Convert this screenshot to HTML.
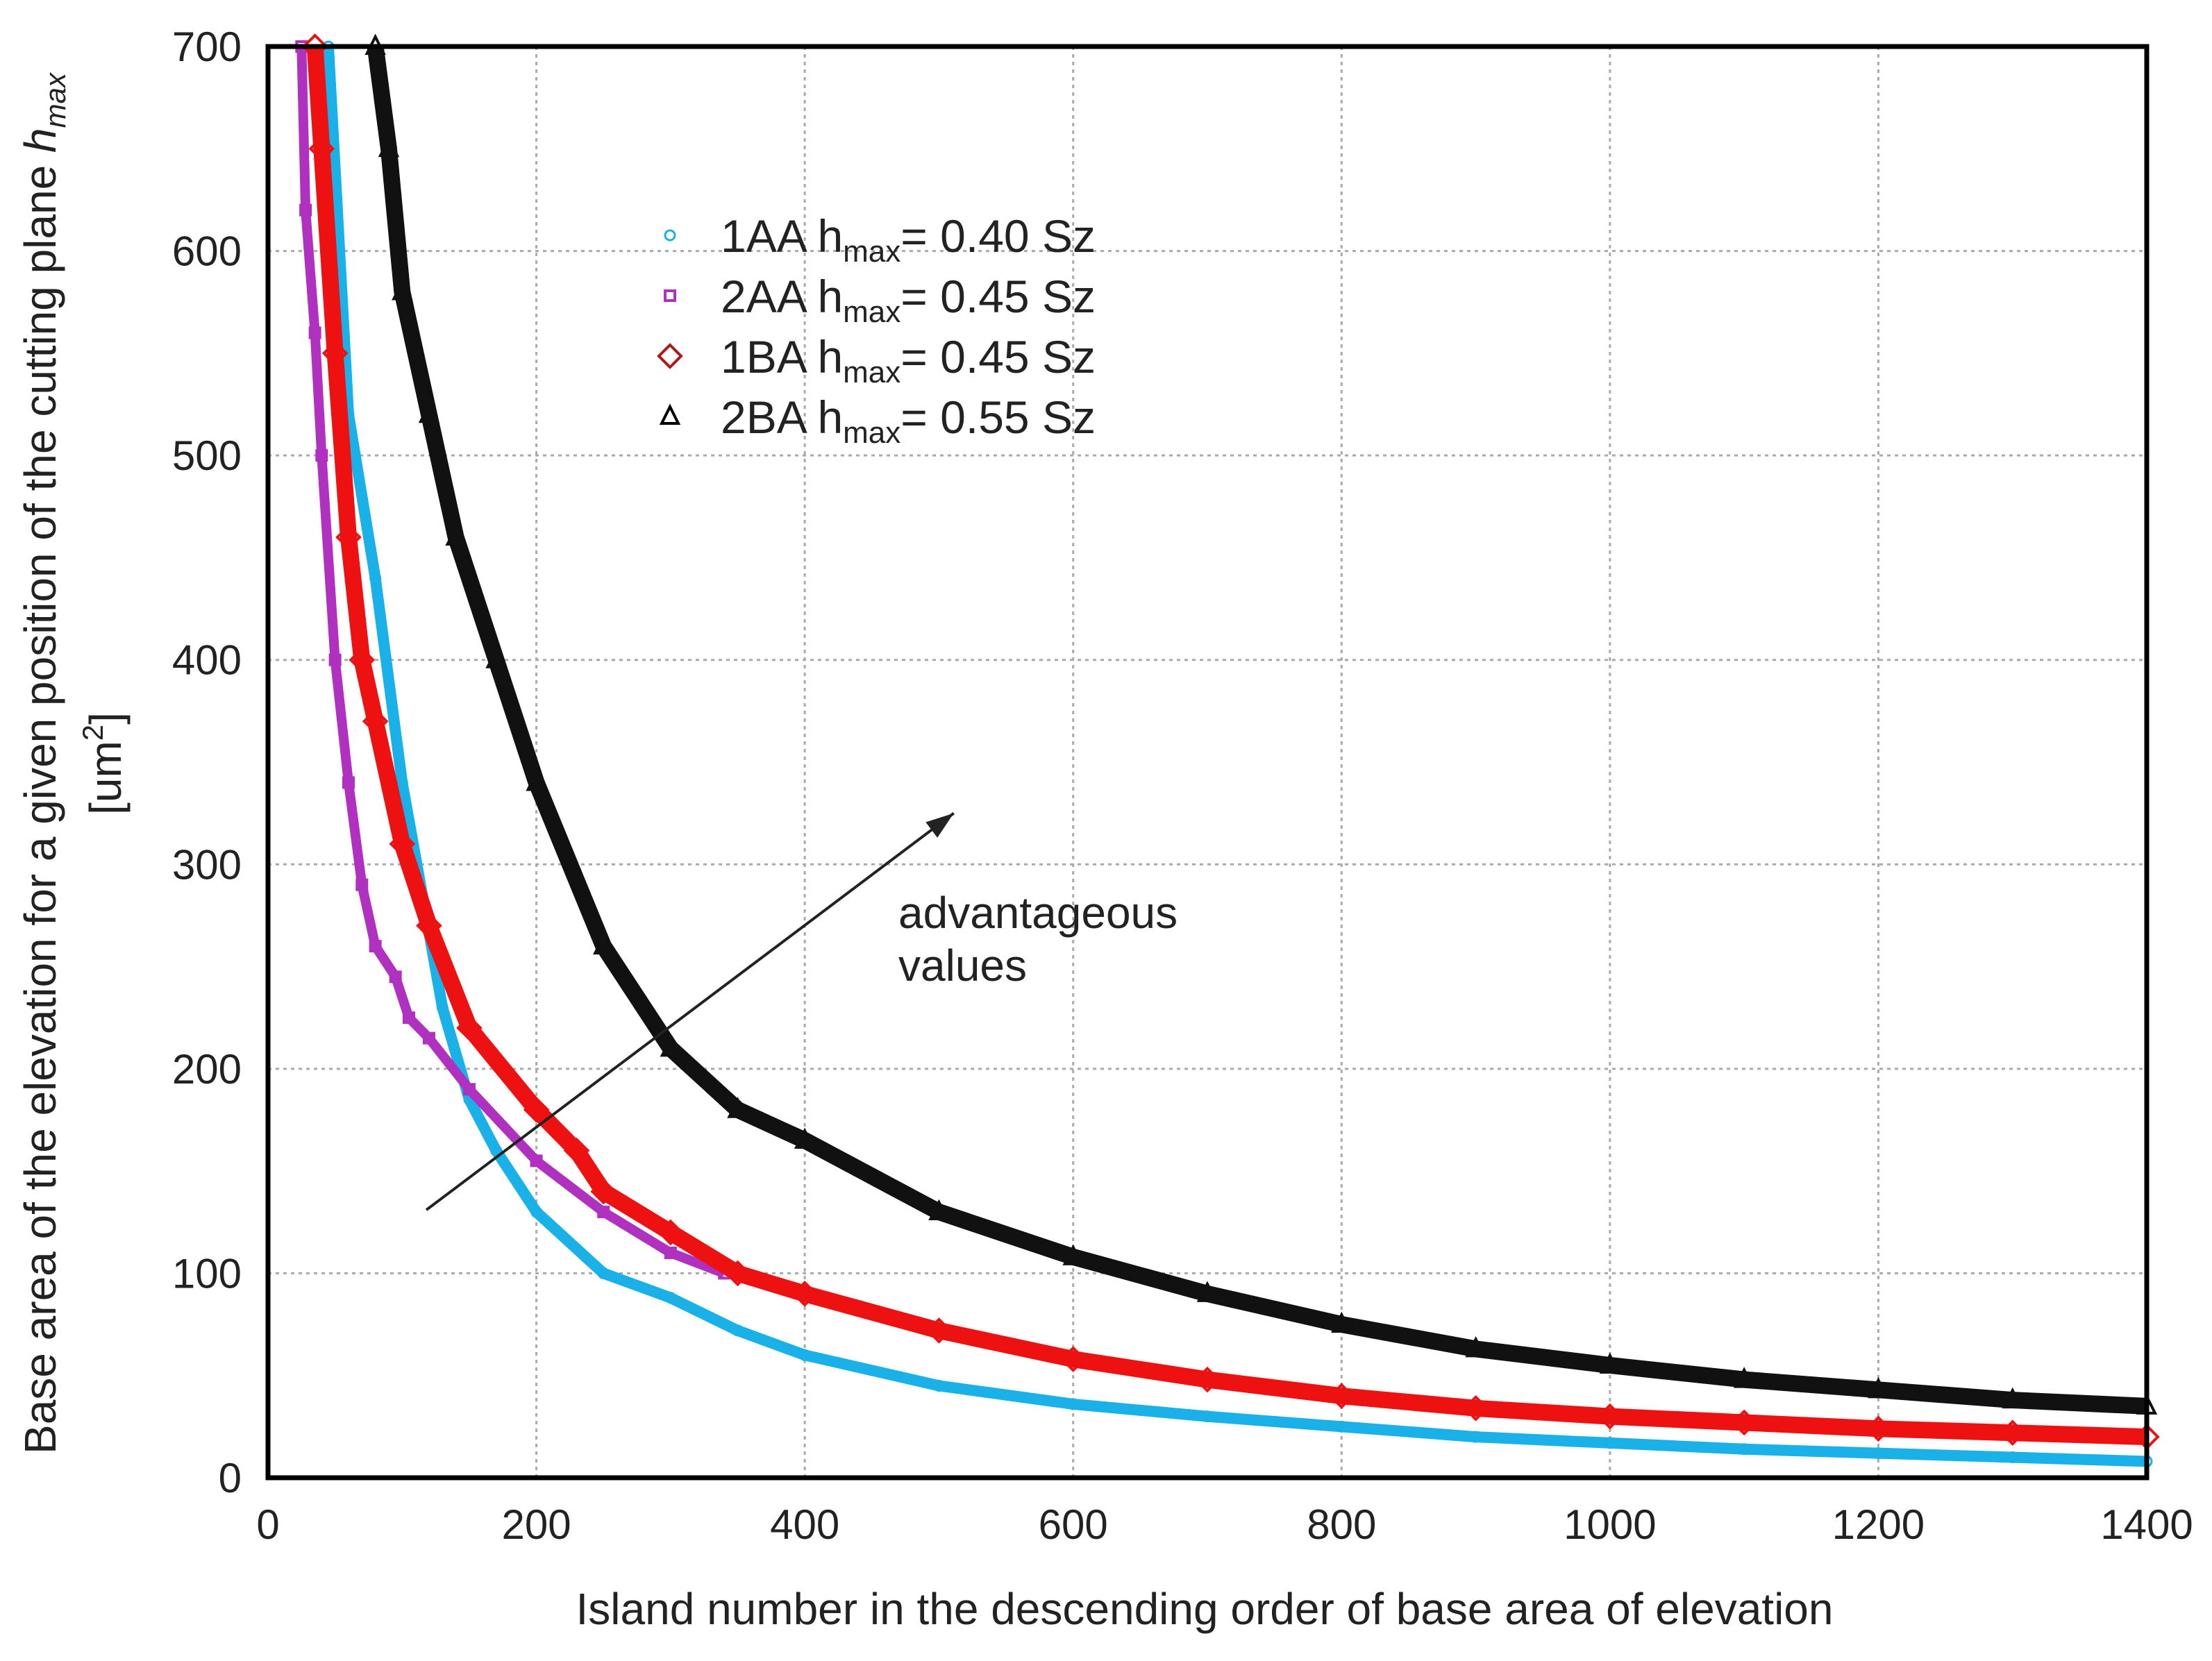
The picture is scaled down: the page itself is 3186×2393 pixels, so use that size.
<!DOCTYPE html>
<html><head><meta charset="utf-8"><style>
html,body{margin:0;padding:0;background:#fff;}
svg{display:block;font-family:"Liberation Sans",sans-serif;}
</style></head><body>
<svg id="chart" width="3186" height="2393" viewBox="0 0 3186 2393" xmlns="http://www.w3.org/2000/svg">
<g id="grid"></g>
<g id="series"></g>
<rect x="386" y="67" width="2706" height="2062" fill="none" stroke="#000" stroke-width="7"/>
<g id="ticks"></g>
<g id="legend"></g>
<g id="arrowg"></g>
<text x="1735" y="2340" font-size="64" text-anchor="middle" fill="#222">Island number in the descending order of base area of elevation</text>
<g transform="translate(80,1100) rotate(-90)">
<text x="0" y="0" font-size="64" text-anchor="middle" fill="#222">Base area of the elevation for a given position of the cutting plane <tspan font-style="italic">h</tspan><tspan font-style="italic" font-size="42" dy="14">max</tspan></text>
<text x="0" y="94" font-size="64" text-anchor="middle" fill="#222">[um<tspan font-size="42" dy="-26">2</tspan><tspan dy="26">]</tspan></text>
</g>
</svg>
<script>
const xTicks=[0,200,400,600,800,1000,1200,1400];
const yTicks=[0,100,200,300,400,500,600,700];
const x1AA=[45,60,80,100,130,150,170,200,250,300,350,400,500,600,700,800,900,1000,1100,1200,1300,1400];
const y1AA=[700,520,440,340,230,185,160,130,100,88,72,60,45,36,30,25,20,17,14,12,10,8];
const x2AA=[25,28,35,40,50,60,70,80,95,105,120,150,200,250,300,340];
const y2AA=[700,620,560,500,400,340,290,260,245,225,215,190,155,130,110,100];
const x1BA=[35,40,50,60,70,80,100,120,150,200,230,250,300,350,400,500,600,700,800,900,1000,1100,1200,1300,1400];
const y1BA=[700,650,550,460,400,370,310,270,220,180,160,140,120,100,90,72,58,48,40,34,30,27,24,22,20];
const x2BA=[80,90,100,120,140,170,200,250,300,350,400,500,600,700,800,900,1000,1100,1200,1300,1400];
const y2BA=[700,650,580,520,460,400,340,260,210,180,165,130,108,90,75,63,55,48,43,38,35];
const arrowFrom=[118,131], arrowTo=[511,325];
const L=386,R=3092,T=67,B=2129;
const sx=v=>L+(v/1400)*(R-L), sy=v=>B-(v/700)*(B-T);
const NS="http://www.w3.org/2000/svg";
function mk(tag,attrs,parent){const e=document.createElementNS(NS,tag);for(const k in attrs)e.setAttribute(k,attrs[k]);parent.appendChild(e);return e;}
const grid=document.getElementById('grid'),ticks=document.getElementById('ticks');
xTicks.forEach(v=>{
 if(v>0&&v<1400){const g=mk('line',{x1:sx(v),x2:sx(v),y1:T,y2:B,stroke:'#aaa','stroke-width':3,'stroke-dasharray':'5 6'},grid);
 }
 const t=mk('text',{x:sx(v),y:B+88,'font-size':60,'text-anchor':'middle',fill:'#222'},ticks);t.textContent=v;
 
});
yTicks.forEach(v=>{
 if(v>0&&v<700){const g=mk('line',{x1:L,x2:R,y1:sy(v),y2:sy(v),stroke:'#aaa','stroke-width':3,'stroke-dasharray':'5 6'},grid);
 }
 const t=mk('text',{x:L-38,y:sy(v)+21,'font-size':60,'text-anchor':'end',fill:'#222'},ticks);t.textContent=v;
 
});
const ser=document.getElementById('series');
function draw(xs,ys,color,shape,w,name){
 const pts=xs.map((x,i)=>sx(x)+','+sy(ys[i])).join(' ');
 const p=mk('polyline',{points:pts,fill:'none',stroke:color,'stroke-width':w,'stroke-linejoin':'round'},ser);
 
 xs.forEach((x,i)=>{const m=marker(sx(x),sy(ys[i]),color,shape,ser);
  });
}
function marker(cx,cy,color,shape,par){
 if(shape==='circle')return mk('circle',{cx,cy,r:7,fill:'none',stroke:color,'stroke-width':3},par);
 if(shape==='square')return mk('rect',{x:cx-7,y:cy-7,width:14,height:14,fill:'none',stroke:color,'stroke-width':4},par);
 if(shape==='diamond')return mk('polygon',{points:`${cx},${cy-16} ${cx+16},${cy} ${cx},${cy+16} ${cx-16},${cy}`,fill:'none',stroke:color,'stroke-width':4},par);
 return mk('polygon',{points:`${cx},${cy-14} ${cx+12},${cy+10} ${cx-12},${cy+10}`,fill:'none',stroke:color,'stroke-width':4},par);
}
draw(x1AA,y1AA,'#1ab0e8','circle',16,'series-1aa');
draw(x2AA,y2AA,'#b030c0','square',14,'series-2aa');
draw(x1BA,y1BA,'#ee1111','diamond',24,'series-1ba');
draw(x2BA,y2BA,'#111','triangle',24,'series-2ba');
const leg=document.getElementById('legend');
const labels=[['1AA','0.40','#1ab0e8','circle'],['2AA','0.45','#b030c0','square'],['1BA','0.45','#b01818','diamond'],['2BA','0.55','#000','triangle']];
labels.forEach((l,i)=>{const y=339+i*87;
 const m=marker(965,y,l[2],l[3],leg);
 const t=mk('text',{x:1038,y:y+24,'font-size':66,fill:'#222'},leg);
 t.innerHTML=`${l[0]} h<tspan font-size="44" dy="14">max</tspan><tspan dy="-14">= ${l[1]} Sz</tspan>`;
 
});
const ag=document.getElementById('arrowg');
const ax1=sx(arrowFrom[0]),ay1=sy(arrowFrom[1]),ax2=sx(arrowTo[0]),ay2=sy(arrowTo[1]);
const a=mk('line',{x1:ax1,y1:ay1,x2:ax2,y2:ay2,stroke:'#222','stroke-width':4},ag);

const ang=Math.atan2(ay2-ay1,ax2-ax1),hl=40,hw=14;
const bx=ax2-hl*Math.cos(ang),by=ay2-hl*Math.sin(ang);
const h=mk('polygon',{points:`${ax2},${ay2} ${bx+hw*Math.sin(ang)},${by-hw*Math.cos(ang)} ${bx-hw*Math.sin(ang)},${by+hw*Math.cos(ang)}`,fill:'#222'},ag);

const t1=mk('text',{x:1294,y:1337,'font-size':64,fill:'#222'},ag);t1.textContent='advantageous';

const t2=mk('text',{x:1294,y:1413,'font-size':64,fill:'#222'},ag);t2.textContent='values';

</script>
</body></html>
